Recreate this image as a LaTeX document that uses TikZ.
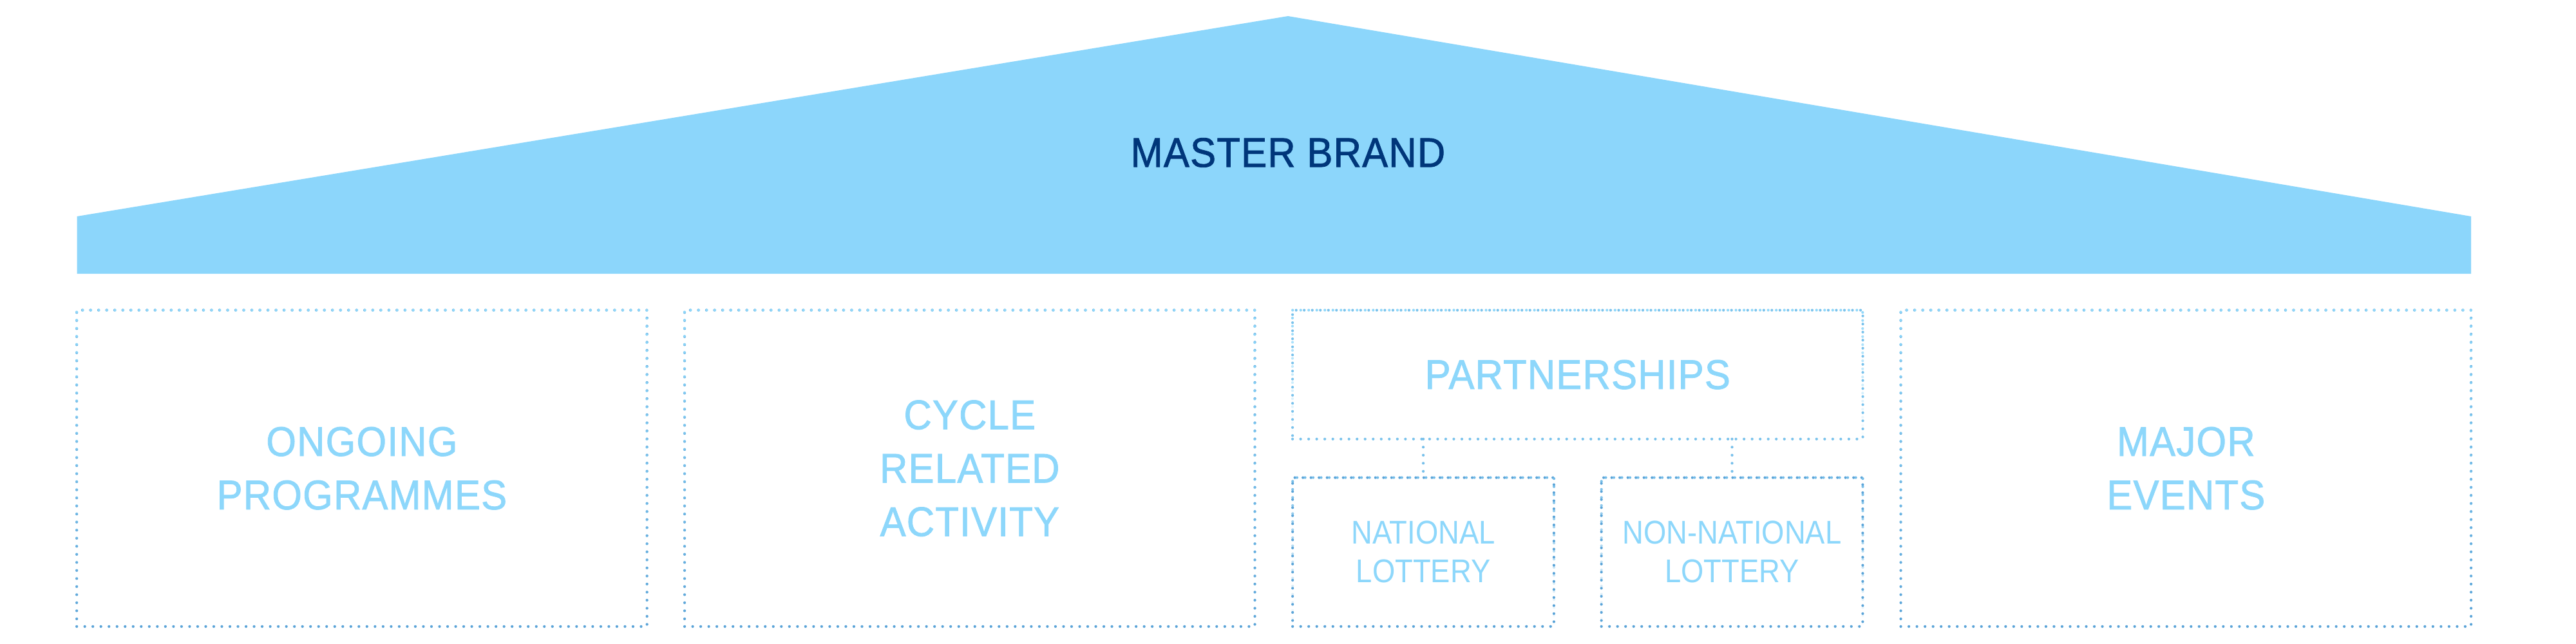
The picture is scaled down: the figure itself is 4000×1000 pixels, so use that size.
\documentclass[tikz,border=0pt]{standalone}
\usepackage{fontspec}
\setmainfont{Liberation Sans}
\newfontfamily\lblfont[FakeStretch=0.93, LetterSpace=2, FakeBold=1.3]{Liberation Sans}
\newfontfamily\subfont[FakeStretch=0.89]{Liberation Sans}
\usetikzlibrary{fadings}
\definecolor{roofblue}{HTML}{8CD6FB}
\definecolor{navy}{HTML}{00367A}
\definecolor{lbl}{HTML}{8DD7FB}
\definecolor{dotlight}{HTML}{8ED7FA}
\definecolor{dotdark}{HTML}{5BA4D8}
\tikzfading[name=fadedown, top color=transparent!0, bottom color=transparent!100]
\tikzset{
  dots/.style={draw=#1, line width=1.2pt, dash pattern=on 0pt off 3.56pt, line cap=round},
  boxshape/.style={rectangle, inner sep=0pt, outer sep=0pt, dots=#1, align=center, text=lbl},
  mainlbl/.style={font=\lblfont\fontsize{18.3}{23.6}\selectfont},
  sublbl/.style={font=\subfont\fontsize{14.5}{17}\selectfont},
  bigbox/.style={boxshape=dotdark, mainlbl, minimum width=8.85cm, minimum height=4.91cm},
  partbox/.style={boxshape=dotlight!59!dotdark, mainlbl, minimum width=8.85cm, minimum height=2.0cm},
  smallbox/.style={boxshape=dotdark, sublbl, minimum width=4.055cm, minimum height=2.31cm},
  overlaydots/.style={dots=#1, path fading=fadedown},
  conn/.style={dots=dotlight!53!dotdark}
}
\begin{document}
\begin{tikzpicture}[x=0.01cm, y=-0.01cm]
\useasboundingbox[fill=white] (0,0) rectangle (4000,1000);
% roof
\path[fill=roofblue] (119.5,336) -- (2000,25) -- (3837,336) -- (3837,425) -- (119.5,425) -- cycle;
\node[mainlbl, text=navy] (master) at (2000,237) {MASTER BRAND};
% pillars
\node[bigbox] (ongoing) at (561.9,727.2) {ONGOING\\PROGRAMMES};
\node[bigbox] (cycle) at (1505.8,727.2) {CYCLE\\RELATED\\ACTIVITY};
\node[partbox] (part) at (2449.8,581.7) {PARTNERSHIPS};
\node[smallbox] (nat) at (2210,857.2) {NATIONAL\\LOTTERY};
\node[smallbox] (nonnat) at (2689.5,857.2) {NON-NATIONAL\\LOTTERY};
\node[bigbox] (major) at (3394.3,727.2) {MAJOR\\EVENTS};
% gradient overlays on dotted outlines
\foreach \n in {ongoing,cycle,major,part}
  \draw[overlaydots=dotlight] (\n.south west) rectangle (\n.north east);
\foreach \n in {nat,nonnat}
  \draw[overlaydots=dotlight!47!dotdark] (\n.south west) rectangle (\n.north east);
% connectors
\draw[conn] (part.south -| nat.north) -- (nat.north);
\draw[conn] (part.south -| nonnat.north) -- (nonnat.north);
\end{tikzpicture}
\end{document}
